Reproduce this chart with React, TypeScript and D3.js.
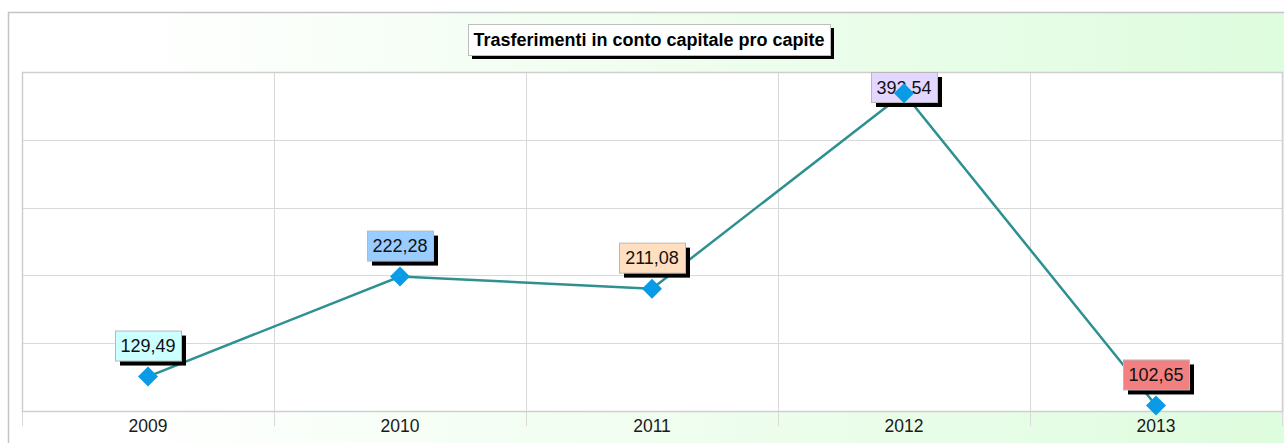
import { useEffect, useRef } from 'react'
import * as d3 from 'd3'

const years = ['2009', '2010', '2011', '2012', '2013']
const values = [129.49, 222.28, 211.08, 392.54, 102.65]
const labelColors = ['#ccffff', '#99ccff', '#ffdfc0', '#e3d7ff', '#f28080']
const title = 'Trasferimenti in conto capitale pro capite'

const W = 1284
const H = 443

export default function App() {
  const svgRef = useRef<SVGSVGElement>(null)

  useEffect(() => {
    const el = svgRef.current
    if (!el) return
    const svg = d3.select(el)
    svg.selectAll('*').remove()

    const plot = { left: 22, top: 72, right: 1282, bottom: 411 }
    const font = '"Liberation Sans", Arial, sans-serif'

    const defs = svg.append('defs')
    const grad = defs.append('linearGradient').attr('id', 'bg-grad')
      .attr('x1', '0%').attr('x2', '100%').attr('y1', '0%').attr('y2', '0%')
    grad.append('stop').attr('offset', '8%').attr('stop-color', '#ffffff')
    grad.append('stop').attr('offset', '100%').attr('stop-color', '#defcde')

    // frame + background
    svg.append('rect')
      .attr('x', 8.5).attr('y', 12.5).attr('width', W).attr('height', H)
      .attr('fill', 'url(#bg-grad)').attr('stroke', '#c4c4c4').attr('stroke-width', 1.5)

    const x = d3.scaleBand<string>().domain(years).range([plot.left, plot.right])
    const y = d3.scaleLinear()
      .domain([d3.min(values)! * 0.95, d3.max(values)! * 1.05])
      .range([plot.bottom, plot.top])

    svg.append('rect')
      .attr('x', plot.left).attr('y', plot.top)
      .attr('width', plot.right - plot.left).attr('height', plot.bottom - plot.top)
      .attr('fill', '#ffffff')

    // horizontal grid
    const yTicks = d3.range(6).map(i => y.domain()[0] + (i * (y.domain()[1] - y.domain()[0])) / 5)
    svg.append('g').selectAll('line').data(yTicks).join('line')
      .attr('x1', plot.left).attr('x2', plot.right)
      .attr('y1', d => Math.round(y(d)) + 0.5).attr('y2', d => Math.round(y(d)) + 0.5)
      .attr('stroke', '#d9d9d9').attr('stroke-width', 1)

    // vertical grid + ticks below axis
    const edges = years.map(d => x(d)!).concat([plot.right])
    svg.append('g').selectAll('line').data(edges).join('line')
      .attr('x1', d => Math.round(d) + 0.5).attr('x2', d => Math.round(d) + 0.5)
      .attr('y1', plot.top).attr('y2', plot.bottom + 15)
      .attr('stroke', '#d9d9d9').attr('stroke-width', 1)

    // plot border
    svg.append('rect')
      .attr('x', plot.left + 0.5).attr('y', plot.top + 0.5)
      .attr('width', plot.right - plot.left).attr('height', plot.bottom - plot.top)
      .attr('fill', 'none').attr('stroke', '#cfcfcf').attr('stroke-width', 1.5)

    // x labels
    svg.append('g').selectAll('text').data(years).join('text')
      .attr('x', d => x(d)! + x.bandwidth() / 2)
      .attr('y', plot.bottom + 21)
      .attr('text-anchor', 'middle')
      .attr('font-family', font).attr('font-size', 17.5).attr('fill', '#1a1a1a')
      .text(d => d)

    const cx = (i: number) => x(years[i])! + x.bandwidth() / 2

    // line
    const line = d3.line<number>().x((_, i) => cx(i)).y(d => y(d))
    svg.append('path').datum(values)
      .attr('d', line)
      .attr('fill', 'none').attr('stroke', '#2e9090').attr('stroke-width', 2.5)

    // value labels
    const fmt = (v: number) => v.toFixed(2).replace('.', ',')
    const bw = 66, bh = 30
    values.forEach((v, i) => {
      const bx = cx(i) - bw / 2
      const by = Math.max(plot.top, y(v) - 16 - bh)
      const g = svg.append('g')
      g.append('rect').attr('x', bx + 5).attr('y', by + 5).attr('width', bw).attr('height', bh).attr('fill', '#000')
      g.append('rect').attr('x', bx + 0.5).attr('y', by + 0.5).attr('width', bw).attr('height', bh)
        .attr('fill', labelColors[i]).attr('stroke', '#b8b8b8').attr('stroke-width', 1)
      g.append('text').attr('x', bx + bw / 2).attr('y', by + bh / 2 + 6.5)
        .attr('text-anchor', 'middle').attr('font-family', font).attr('font-size', 18).attr('fill', '#111')
        .text(fmt(v))
    })

    // markers
    svg.append('g').selectAll('path').data(values).join('path')
      .attr('d', d3.symbol().type(d3.symbolSquare).size(200)())
      .attr('transform', (d, i) => `translate(${cx(i)},${y(d)}) rotate(45)`)
      .attr('fill', '#0a9be6')

    // title
    const tg = svg.append('g')
    const tw = 362, th = 31
    const tx = (plot.left + plot.right) / 2 - tw / 2 - 3, ty = 24
    tg.append('rect').attr('x', tx + 4).attr('y', ty + 4).attr('width', tw).attr('height', th).attr('fill', '#000')
    tg.append('rect').attr('x', tx + 0.5).attr('y', ty + 0.5).attr('width', tw).attr('height', th)
      .attr('fill', '#fff').attr('stroke', '#bdbdbd')
    tg.append('text').attr('x', tx + tw / 2).attr('y', ty + th / 2 + 6)
      .attr('text-anchor', 'middle').attr('font-family', font).attr('font-size', 18)
      .attr('font-weight', 'bold').attr('fill', '#000')
      .text(title)
  }, [])

  return (
    <svg
      ref={svgRef}
      width={W}
      height={H}
      style={{ position: 'absolute', left: 0, top: 0, display: 'block' }}
    />
  )
}
